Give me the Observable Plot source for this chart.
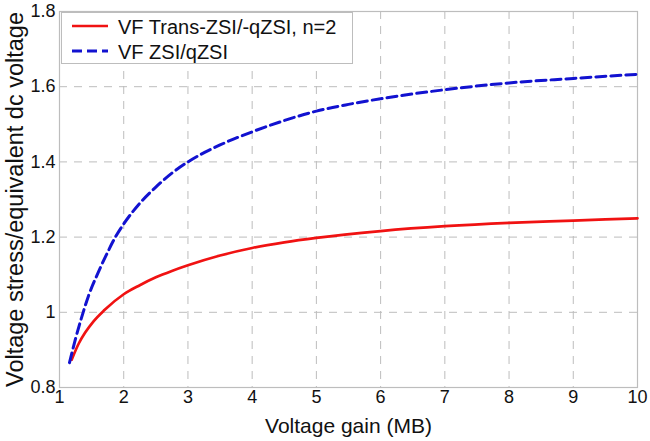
<!DOCTYPE html>
<html>
<head>
<meta charset="utf-8">
<script src="https://cdn.jsdelivr.net/npm/d3@7"></script>
<script src="https://cdn.jsdelivr.net/npm/@observablehq/plot@0.6"></script>
<style>
  html, body { margin: 0; padding: 0; background: #fff; }
  #wrap { position: relative; width: 650px; height: 441px; font-family: 'Liberation Sans', Arial, sans-serif; }
  #legend { position: absolute; left: 61px; top: 12px; }
</style>
</head>
<body>
<div id="wrap"></div>
<script>
// ---- data ----
const seriesNames = ["VF Trans-ZSI/-qZSI, n=2", "VF ZSI/qZSI"];
const seriesColors = ["#f01212", "#1212d0"];

const gainTrans = [1.19, 1.3, 1.4, 1.53, 1.7, 2.0, 2.25, 2.5, 2.75, 3.0, 3.5, 4.0, 4.5, 5.0, 6.0, 7.0, 8.0, 9.0, 10.0];
const vfTrans   = [0.874, 0.917, 0.946, 0.976, 1.006, 1.048, 1.072, 1.093, 1.11, 1.125, 1.151, 1.171, 1.186, 1.198, 1.216, 1.229, 1.238, 1.244, 1.25];

const gainZsi = [1.156, 1.25, 1.33, 1.45, 1.6, 1.75, 1.87, 2.0, 2.25, 2.5, 2.75, 3.0, 3.5, 4.0, 4.5, 5.0, 5.5, 6.0, 7.0, 8.0, 9.0, 10.0];
const vfZsi   = [0.866, 0.93, 0.978, 1.043, 1.105, 1.16, 1.20, 1.235, 1.29, 1.333, 1.37, 1.40, 1.445, 1.48, 1.51, 1.535, 1.553, 1.568, 1.592, 1.61, 1.622, 1.633];

const xTicks = [1, 2, 3, 4, 5, 6, 7, 8, 9, 10];
const yTicks = [0.8, 1.0, 1.2, 1.4, 1.6, 1.8];
const xTitle = "Voltage gain (MB)";
const yTitle = "Voltage stress/equivalent dc voltage";

// ---- build tables ----
const transData = gainTrans.map((g, i) => ({g, v: vfTrans[i]}));
const zsiData = gainZsi.map((g, i) => ({g, v: vfZsi[i]}));

const gridStyle = {stroke: "#bdbdbd", strokeOpacity: 1, strokeWidth: 1, strokeDasharray: "8,7"};

const chart = Plot.plot({
  width: 650,
  height: 441,
  marginLeft: 59,
  marginRight: 13,
  marginTop: 11,
  marginBottom: 54,
  style: {fontFamily: "'Liberation Sans', Arial, sans-serif", background: "#fff", color: "#111", overflow: "visible"},
  x: {domain: [1, 10]},
  y: {domain: [0.8, 1.8]},
  marks: [
    Plot.gridX(xTicks, gridStyle),
    Plot.gridY(yTicks, gridStyle),
    Plot.frame({stroke: "#bdbdbd", strokeWidth: 1.2}),
    Plot.axisX(xTicks, {tickSize: 0, tickPadding: 3, fontSize: 18, label: null}),
    Plot.axisY(yTicks, {tickSize: 0, tickPadding: 4, fontSize: 18, label: null,
      tickFormat: d => String(+d.toFixed(1))}),
    Plot.line(transData, {x: "g", y: "v", stroke: seriesColors[0], strokeWidth: 2.7, curve: "monotone-x"}),
    Plot.line(zsiData, {x: "g", y: "v", stroke: seriesColors[1], strokeWidth: 3, strokeDasharray: "10,5", curve: "monotone-x"}),
    Plot.text([xTitle], {frameAnchor: "bottom", lineAnchor: "bottom", dy: 45, fontSize: 21, fill: "#111"}),
    Plot.text([yTitle], {frameAnchor: "left", textAnchor: "middle", rotate: -90, lineAnchor: "bottom", dx: -37, fontSize: 23.5, fill: "#111"})
  ]
});

const wrap = document.getElementById("wrap");
wrap.appendChild(chart);

// ---- legend (overlay box inside the plot) ----
const lg = d3.select(wrap).append("svg")
  .attr("id", "legend")
  .attr("width", 293).attr("height", 53)
  .style("font-family", "'Liberation Sans', Arial, sans-serif");
lg.append("rect").attr("x", 0.5).attr("y", 0.5).attr("width", 291).attr("height", 51)
  .attr("fill", "#fff").attr("stroke", "#bdbdbd");
const dashes = [null, "10,5"];
const widths = [2.7, 3];
seriesNames.forEach((name, i) => {
  const cy = 14 + i * 25;
  lg.append("line").attr("x1", 11).attr("x2", 47).attr("y1", cy).attr("y2", cy)
    .attr("stroke", seriesColors[i]).attr("stroke-width", widths[i])
    .attr("stroke-dasharray", dashes[i]);
  lg.append("text").attr("x", 57).attr("y", cy + 7.5).attr("font-size", 20).attr("fill", "#111").text(name);
});
</script>
</body>
</html>
